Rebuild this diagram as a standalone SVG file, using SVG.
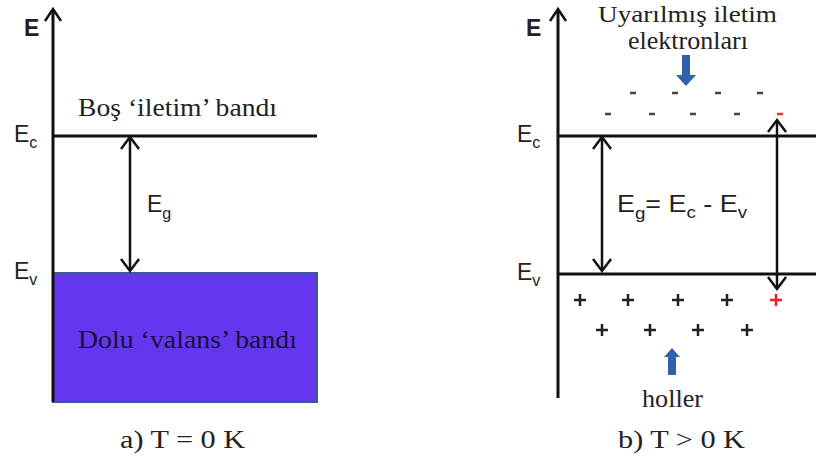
<svg xmlns="http://www.w3.org/2000/svg" width="816" height="459" viewBox="0 0 816 459">
<style>
.ax{stroke:#111;stroke-width:3;fill:none}
.ln{stroke:#111;stroke-width:3;fill:none}
.ar{stroke:#111;stroke-width:2.5;fill:none}
.hd{stroke:#111;stroke-width:2.5;fill:none;stroke-linejoin:miter}
.serif{font-family:"Liberation Serif","Times New Roman",serif;font-size:26px;fill:#222}
.sans{font-family:"Liberation Sans",Arial,sans-serif;font-size:23px;fill:#222}
.sub{font-size:16px}
.axlbl{font-family:"Liberation Sans",Arial,sans-serif;font-size:23px;font-weight:bold;fill:#222}
.dash{stroke:#444;stroke-width:2.5}
.plus{stroke:#222;stroke-width:2.5}
.blue{fill:#2f62aa}
</style>
<rect width="816" height="459" fill="#fff"/>

<!-- Left panel -->
<g id="band-valence-a">
<rect x="53" y="273" width="264" height="129" fill="#6436f0" stroke="#3c5a8a" stroke-width="2"/>
<text class="serif" x="78" y="348" textLength="219" lengthAdjust="spacingAndGlyphs" style="fill:#1a1040">Dolu ‘valans’ bandı</text>
</g>
<g id="axis-a">
<line class="ax" x1="53" y1="10" x2="53" y2="402"/>
<path class="hd" d="M45,21 L53,9 L61,21"/>
<text class="axlbl" x="24" y="36">E</text>
</g>
<g id="conduction-a">
<line class="ln" x1="53" y1="136" x2="317" y2="136"/>
<text class="serif" x="78" y="116" textLength="199" lengthAdjust="spacingAndGlyphs">Boş ‘iletim’ bandı</text>
<text class="sans" x="14" y="142">E<tspan class="sub" dy="6">c</tspan></text>
</g>
<g id="ev-a">
<text class="sans" x="14" y="279">E<tspan class="sub" dy="6">v</tspan></text>
</g>
<g id="eg-a">
<text class="sans" x="147" y="212">E<tspan class="sub" dy="7">g</tspan></text>
</g>
<text class="serif" x="120" y="448" textLength="125" lengthAdjust="spacingAndGlyphs">a) T = 0  K</text>

<!-- Right panel -->
<g id="axis-b">
<line class="ax" x1="558" y1="10" x2="558" y2="398"/>
<path class="hd" d="M550,21 L558,9 L566,21"/>
<text class="axlbl" x="526" y="36">E</text>
</g>
<g id="conduction-b">
<line class="ln" x1="558" y1="136" x2="816" y2="136"/>
<text class="sans" x="517" y="142">E<tspan class="sub" dy="6">c</tspan></text>
</g>
<g id="valence-b">
<line class="ln" x1="558" y1="274" x2="816" y2="274"/>
<text class="sans" x="517" y="280">E<tspan class="sub" dy="6">v</tspan></text>
</g>
<g id="eg-b">
<text class="sans" x="617" y="212" textLength="130" lengthAdjust="spacingAndGlyphs">E<tspan class="sub" dy="7">g</tspan><tspan dy="-7">= E</tspan><tspan class="sub" dy="6">c</tspan><tspan dy="-6"> - E</tspan><tspan class="sub" dy="6">v</tspan></text>
</g>
<g id="electrons">
<text class="serif" x="598" y="22" font-size="24" style="font-size:24px" textLength="179" lengthAdjust="spacingAndGlyphs">Uyarılmış  iletim</text>
<text class="serif" x="628" y="49" textLength="120" lengthAdjust="spacingAndGlyphs">elektronları</text>
<path class="blue" d="M682,55 H690 V75 H696 L686,86 L676,75 H682 Z"/>
<g>
<line class="dash" x1="630" y1="93" x2="636" y2="93"/>
<line class="dash" x1="672" y1="93" x2="678" y2="93"/>
<line class="dash" x1="715" y1="93" x2="721" y2="93"/>
<line class="dash" x1="757" y1="93" x2="763" y2="93"/>
<line class="dash" x1="605" y1="114" x2="611" y2="114"/>
<line class="dash" x1="649" y1="114" x2="655" y2="114"/>
<line class="dash" x1="690" y1="114" x2="696" y2="114"/>
<line class="dash" x1="734" y1="114" x2="740" y2="114"/>
<line x1="777" y1="114" x2="783" y2="114" stroke="#e83030" stroke-width="2.5"/>
</g>
</g>
<g id="holes">
<path class="plus" d="M574,300 h12 M580,294 v12"/>
<path class="plus" d="M622,300 h12 M628,294 v12"/>
<path class="plus" d="M672,300 h12 M678,294 v12"/>
<path class="plus" d="M721,300 h12 M727,294 v12"/>
<path d="M770,300 h12 M776,294 v12" stroke="#e82020" stroke-width="2.5"/>
<path class="plus" d="M596,330 h12 M602,324 v12"/>
<path class="plus" d="M644,330 h12 M650,324 v12"/>
<path class="plus" d="M692,330 h12 M698,324 v12"/>
<path class="plus" d="M741,330 h12 M747,324 v12"/>
<path class="blue" d="M668,375 H676 V357 H680 L672,348 L664,357 H668 Z"/>
<text class="serif" x="642" y="407" textLength="61" lengthAdjust="spacingAndGlyphs">holler</text>
</g>
<text class="serif" x="618" y="448" textLength="127" lengthAdjust="spacingAndGlyphs">b) T &gt; 0  K</text>

<!-- Connectors -->
<g id="connectors">
<line class="ar" x1="130" y1="138" x2="130" y2="270"/>
<path class="hd" d="M121,149 L130,137 L139,149"/>
<path class="hd" d="M121,259 L130,271 L139,259"/>
<line class="ar" x1="602" y1="138" x2="602" y2="270"/>
<path class="hd" d="M593,149 L602,137 L611,149"/>
<path class="hd" d="M593,259 L602,271 L611,259"/>
<line class="ar" x1="777" y1="121" x2="777" y2="288"/>
<path class="hd" d="M768,132 L777,120 L786,132"/>
<path class="hd" d="M768,277 L777,289 L786,277"/>
</g>
</svg>
